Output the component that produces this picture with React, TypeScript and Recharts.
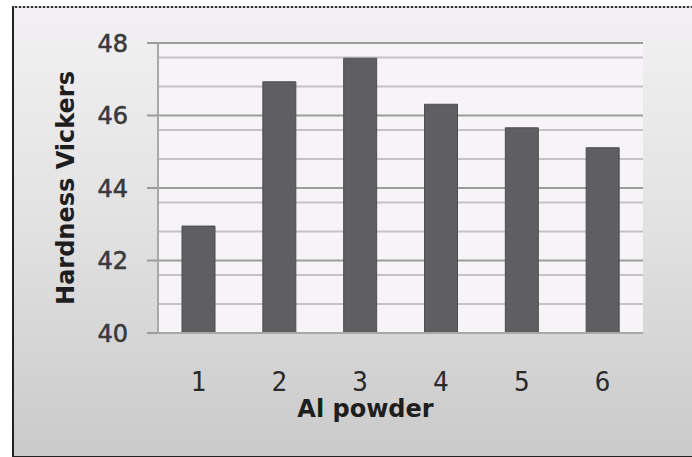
import React from 'react';
import { BarChart, Bar, XAxis, YAxis, CartesianGrid, Label } from 'recharts';

const samples = ['1', '2', '3', '4', '5', '6'];
const hardness = [42.95, 46.93, 47.58, 46.31, 45.66, 45.11];
const majorTicks = [40, 42, 44, 46, 48];
const minorTicks = [40.4, 40.8, 41.2, 41.6, 42.4, 42.8, 43.2, 43.6, 44.4, 44.8, 45.2, 45.6, 46.4, 46.8, 47.2, 47.6];

const data = samples.map((s, i) => ({ sample: s, hv: hardness[i] }));

const YTitle = ({ viewBox }: any) => {
  const cy = viewBox.y + viewBox.height / 2;
  return (
    <text
      x={66}
      y={cy}
      transform={`rotate(-90, 66, ${cy})`}
      textAnchor="middle"
      dominantBaseline="central"
      fontFamily="DejaVu Sans"
      fontWeight="bold"
      fontSize={24}
      fill="#1e1e1e"
    >
      Hardness Vickers
    </text>
  );
};

export default function App() {
  return (
    <div style={{ position: 'absolute', left: 0, top: 0, width: 692, height: 457, background: '#fff', overflow: 'hidden' }}>
      <div
        style={{
          position: 'absolute',
          left: 12,
          top: 6,
          width: 690,
          height: 448,
          borderLeft: '2px solid #222',
          borderBottom: '2px solid #222',
          borderTop: '2px dotted #333',
          background: 'linear-gradient(to bottom, #f2f0f2 0%, #e4e3e4 45%, #cbcacb 100%)',
        }}
      />
      <div style={{ position: 'absolute', left: 0, top: 0 }}>
        <BarChart
          width={692}
          height={457}
          data={data}
          margin={{ top: 43, right: 49, bottom: 0, left: 0 }}
          barSize={33}
        >
          <CartesianGrid
            vertical={false}
            horizontalValues={minorTicks}
            stroke="#c4c2c4"
            strokeWidth={2}
            fill="#f6f4f6"
          />
          <CartesianGrid vertical={false} stroke="#9c9b9c" strokeWidth={2} />
          <XAxis
            dataKey="sample"
            height={124}
            tickSize={0}
            tickMargin={40}
            tickLine={false}
            axisLine={{ stroke: '#a9a8a9', strokeWidth: 2 }}
            tick={{ fontFamily: 'DejaVu Sans Mono', fontSize: 26, fill: '#2a2a2a' }}
          >
            <Label
              value="Al powder"
              position="insideBottom"
              offset={40}
              dx={-35}
              fontFamily="DejaVu Sans"
              fontWeight="bold"
              fontSize={24}
              fill="#1e1e1e"
            />
          </XAxis>
          <YAxis
            width={158}
            domain={[40, 48]}
            ticks={majorTicks}
            tickSize={11}
            tickMargin={19}
            tickLine={{ stroke: '#9c9b9c', strokeWidth: 2 }}
            axisLine={{ stroke: '#a9a8a9', strokeWidth: 2 }}
            tick={{ fontFamily: 'DejaVu Sans', fontSize: 24, fill: '#3a3a3a', stroke: '#3a3a3a', strokeWidth: 0.6 }}
          >
            <Label content={<YTitle />} />
          </YAxis>
          <Bar dataKey="hv" fill="#5f5e60" stroke="#4e4d4f" strokeWidth={1} isAnimationActive={false} />
        </BarChart>
      </div>
    </div>
  );
}
